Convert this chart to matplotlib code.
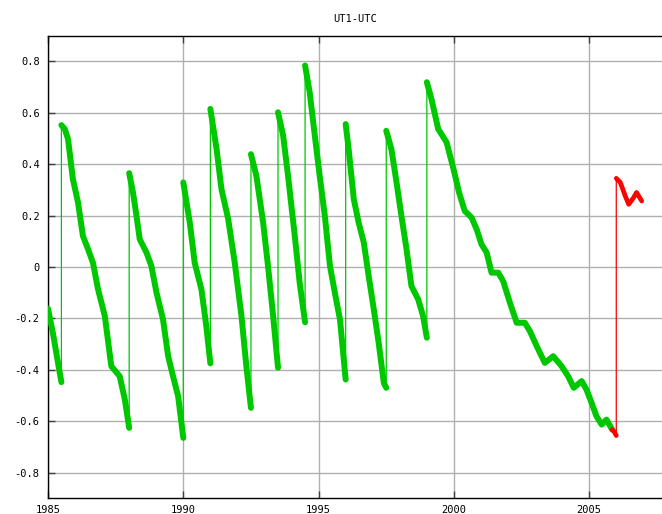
import numpy as np
import matplotlib
matplotlib.use('Agg')
import matplotlib.pyplot as plt

plt.rcParams['font.family'] = 'DejaVu Sans Mono'
plt.rcParams['axes.unicode_minus'] = False

# observed UT1-UTC (seconds); repeated year = leap second jump
years = [1985.0, 1985.18, 1985.37, 1985.495,
         1985.495, 1985.62, 1985.74, 1985.92, 1986.11, 1986.29, 1986.48, 1986.66, 1986.85,
         1987.10, 1987.34, 1987.65, 1987.84, 1988.0,
         1988.0, 1988.14, 1988.27, 1988.39, 1988.64, 1988.82, 1989.01, 1989.25, 1989.44,
         1989.62, 1989.81, 1990.0,
         1990.0, 1990.24, 1990.42, 1990.67, 1990.85, 1991.0,
         1991.0, 1991.23, 1991.41, 1991.66, 1991.90, 1992.15, 1992.33, 1992.5,
         1992.5, 1992.70, 1992.95, 1993.13, 1993.32, 1993.5,
         1993.5, 1993.69, 1993.87, 1994.12, 1994.30, 1994.5,
         1994.5, 1994.67, 1994.86, 1995.04, 1995.23, 1995.42, 1995.60, 1995.79, 1996.0,
         1996.0, 1996.11, 1996.30, 1996.48, 1996.67, 1996.85, 1997.04, 1997.22, 1997.41, 1997.5,
         1997.5, 1997.69, 1997.88, 1998.06, 1998.25, 1998.43, 1998.68, 1998.86, 1999.0,
         1999.0, 1999.17, 1999.42, 1999.73, 2000.0, 2000.19, 2000.40, 2000.65, 2000.84,
         2001.02, 2001.21, 2001.39, 2001.64, 2001.82, 2002.07, 2002.32, 2002.62, 2002.81,
         2003.06, 2003.36, 2003.67, 2003.98, 2004.22, 2004.43, 2004.72, 2004.90, 2005.09,
         2005.27, 2005.46, 2005.64, 2005.85]
values = [-0.162, -0.256, -0.373, -0.448,
          0.552, 0.537, 0.498, 0.342, 0.251, 0.121, 0.069, 0.017, -0.087,
          -0.191, -0.386, -0.425, -0.516, -0.626,
          0.365, 0.29, 0.199, 0.108, 0.056, 0.004, -0.1, -0.204, -0.347,
          -0.425, -0.503, -0.665,
          0.329, 0.173, 0.017, -0.087, -0.23, -0.375,
          0.615, 0.459, 0.303, 0.186, 0.017, -0.191, -0.386, -0.548,
          0.439, 0.355, 0.173, 0.004, -0.191, -0.392,
          0.602, 0.511, 0.355, 0.121, -0.061, -0.215,
          0.784, 0.68, 0.511, 0.355, 0.199, 0.004, -0.1, -0.204, -0.438,
          0.556, 0.459, 0.264, 0.173, 0.095, -0.035, -0.165, -0.295, -0.451, -0.47,
          0.530, 0.459, 0.329, 0.199, 0.069, -0.074, -0.126, -0.191, -0.275,
          0.719, 0.654, 0.537, 0.485, 0.375, 0.29, 0.218, 0.193, 0.147,
          0.088, 0.056, -0.022, -0.022, -0.055, -0.139, -0.217, -0.217, -0.25,
          -0.308, -0.373, -0.347, -0.386, -0.425, -0.47, -0.444, -0.477, -0.529,
          -0.581, -0.613, -0.594, -0.633]

# predicted part
pred_years = [2005.85, 2005.92, 2006.0, 2006.0, 2006.15, 2006.33, 2006.46, 2006.64, 2006.75, 2006.94]
pred_values = [-0.633, -0.64, -0.656, 0.345, 0.329, 0.277, 0.244, 0.27, 0.29, 0.257]

y_ticks = [-0.8, -0.6, -0.4, -0.2, 0, 0.2, 0.4, 0.6, 0.8]
x_ticks = [1985, 1990, 1995, 2000, 2005]


def split_jumps(x, y):
    # put NaN between repeated x so the thick line breaks at jumps
    xs, ys = [x[0]], [y[0]]
    for i in range(1, len(x)):
        if x[i] == x[i - 1]:
            xs.append(np.nan)
            ys.append(np.nan)
        xs.append(x[i])
        ys.append(y[i])
    return xs, ys


fig = plt.figure(figsize=(6.62, 5.14), dpi=100)
ax = fig.add_axes([48 / 662, 15.7 / 514, 1 - 48 / 662, 462.6 / 514])

green = '#00c800'
red = '#ff0000'

ax.plot(years, values, color=green, lw=0.9, zorder=3)
gx, gy = split_jumps(years, values)
ax.plot(gx, gy, color=green, lw=4.3, solid_joinstyle='round', solid_capstyle='round', zorder=4)

ax.plot(pred_years, pred_values, color=red, lw=0.9, zorder=5)
rx, ry = split_jumps(pred_years, pred_values)
ax.plot(rx, ry, color=red, lw=3.4, solid_joinstyle='round', solid_capstyle='round', zorder=6)

ax.set_xlim(1985, 2007.69)
ax.set_ylim(-0.9, 0.9)
ax.set_xticks(x_ticks)
ax.set_yticks(y_ticks)
ax.set_yticklabels(['%g' % v for v in y_ticks])
ax.grid(True, color='#b0b0b0', lw=1.0)
ax.set_axisbelow(True)

ax.tick_params(direction='in', length=5, width=1, color='#404040', labelsize=7.5,
               top=True, pad=6)
ax.tick_params(axis='x', pad=5)
ax.spines['right'].set_visible(False)
for s in ['left', 'top', 'bottom']:
    ax.spines[s].set_linewidth(1.0)

ax.set_title('UT1-UTC', fontsize=7.5, pad=10)

fig.savefig('out.png', dpi=100)
